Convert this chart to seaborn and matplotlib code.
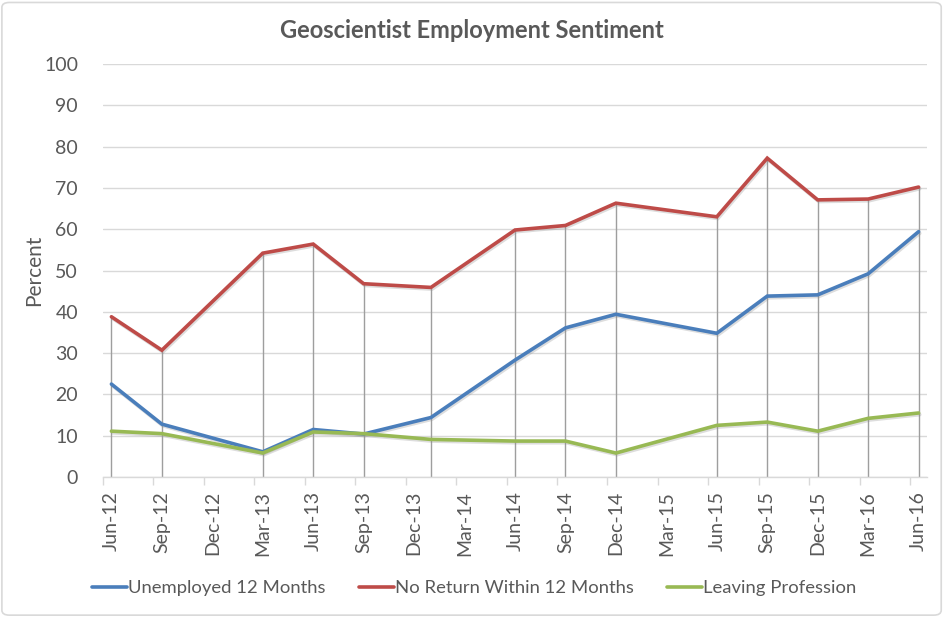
import matplotlib
matplotlib.use("Agg")
import matplotlib.pyplot as plt
import matplotlib.patheffects as pe
from matplotlib.patches import FancyBboxPatch
import seaborn as sns
import pandas as pd
import numpy as np

# ---- data ----
survey_dates = ["2012-06", "2012-09", "2013-03", "2013-06", "2013-09", "2014-01",
                "2014-06", "2014-09", "2014-12", "2015-06", "2015-09", "2015-12",
                "2016-03", "2016-06"]
unemployed = [22.5, 12.8, 6.1, 11.5, 10.4, 14.4, 28.3, 36.1, 39.4, 34.8, 43.8, 44.1, 49.2, 59.4]
no_return = [38.8, 30.7, 54.2, 56.4, 46.8, 45.9, 59.8, 60.9, 66.3, 63.0, 77.2, 67.1, 67.3, 70.2]
leaving = [11.1, 10.5, 5.8, 10.9, 10.5, 9.1, 8.7, 8.7, 5.8, 12.5, 13.3, 11.1, 14.2, 15.5]
series_names = ["Unemployed 12 Months", "No Return Within 12 Months", "Leaving Profession"]
colors = ["#4A7EBB", "#BE4B48", "#98B954"]
tick_labels = ["Jun-12", "Sep-12", "Dec-12", "Mar-13", "Jun-13", "Sep-13", "Dec-13",
               "Mar-14", "Jun-14", "Sep-14", "Dec-14", "Mar-15", "Jun-15", "Sep-15",
               "Dec-15", "Mar-16", "Jun-16"]

# month index relative to first survey
per = pd.PeriodIndex(survey_dates, freq="M")
start = per[0]
month_idx = np.array([(p - start).n for p in per])

df = pd.DataFrame({
    "month": np.tile(month_idx, 3),
    "value": unemployed + no_return + leaving,
    "series": np.repeat(series_names, len(month_idx)),
})

sns.set_theme(style="white")
plt.rcParams["font.family"] = ["Lato", "DejaVu Sans"]
text_color = "#595959"

fig = plt.figure(figsize=(9.45, 6.17), dpi=100)
ax = fig.add_axes([103 / 945, 1 - 477 / 617, (927 - 103) / 945, (477 - 64) / 617])

# horizontal gridlines
ax.set_ylim(0, 100)
ax.set_yticks(range(0, 101, 10))
ax.yaxis.grid(True, color="#D9D9D9", linewidth=1)
ax.set_axisbelow(True)

# drop lines from highest series to axis
top = np.maximum.reduce([np.array(unemployed), np.array(no_return), np.array(leaving)])
ax.vlines(month_idx, 0, top, color="#9E9E9E", linewidth=1, zorder=1.5)

shadow = [pe.SimpleLineShadow(offset=(0.8, -1.2), shadow_color="#8f8f8f", alpha=0.3),
          pe.Normal()]
sns.lineplot(data=df, x="month", y="value", hue="series", hue_order=series_names,
             palette=colors, linewidth=2.6, ax=ax, legend=False, zorder=3)
for line in ax.get_lines():
    line.set_path_effects(shadow)
    line.set_solid_joinstyle("miter")

n_months = len(tick_labels) * 3 - 2  # Jun-12 .. Jun-16 months
ax.set_xlim(-0.5, n_months - 0.5)
# major ticks at quarter boundaries (tick marks), labels at month centers
ax.set_xticks(np.arange(-0.5, n_months - 1, 3))
ax.set_xticklabels([])
ax.set_xticks(np.arange(0, n_months, 3), minor=True)
ax.set_xticklabels(tick_labels, minor=True, rotation=90, fontsize=14, color=text_color)
ax.tick_params(axis="x", which="major", length=6, width=1, color="#D9D9D9", direction="out", bottom=True)
ax.tick_params(axis="x", which="minor", length=0, pad=10)
ax.tick_params(axis="y", length=0, labelsize=14, labelcolor=text_color, pad=18)

for s in ["top", "right", "left"]:
    ax.spines[s].set_visible(False)
ax.spines["bottom"].set_color("#D9D9D9")
ax.spines["bottom"].set_linewidth(1)

ax.set_xlabel("")
ax.set_ylabel("Percent", fontsize=15, color=text_color, labelpad=0)

fig.text(472 / 945, 1 - 30 / 617, "Geoscientist Employment Sentiment", ha="center", va="center",
         fontsize=17, fontweight="bold", color=text_color)

handles = [plt.Line2D([], [], color=c, linewidth=2.6) for c in colors]
fig.legend(handles, series_names, loc="center", bbox_to_anchor=(474 / 945, 1 - 588 / 617),
           ncol=3, frameon=False, fontsize=13.3, labelcolor=text_color,
           handlelength=1.9, handletextpad=0.05, columnspacing=1.8)

border = FancyBboxPatch((0.002, 0.003), 0.994, 0.993, boxstyle="round,pad=0,rounding_size=0.008",
                        transform=fig.transFigure, facecolor="none", edgecolor="#D9D9D9",
                        linewidth=1.2)
fig.patches.append(border)

fig.savefig("out.png", dpi=100)
